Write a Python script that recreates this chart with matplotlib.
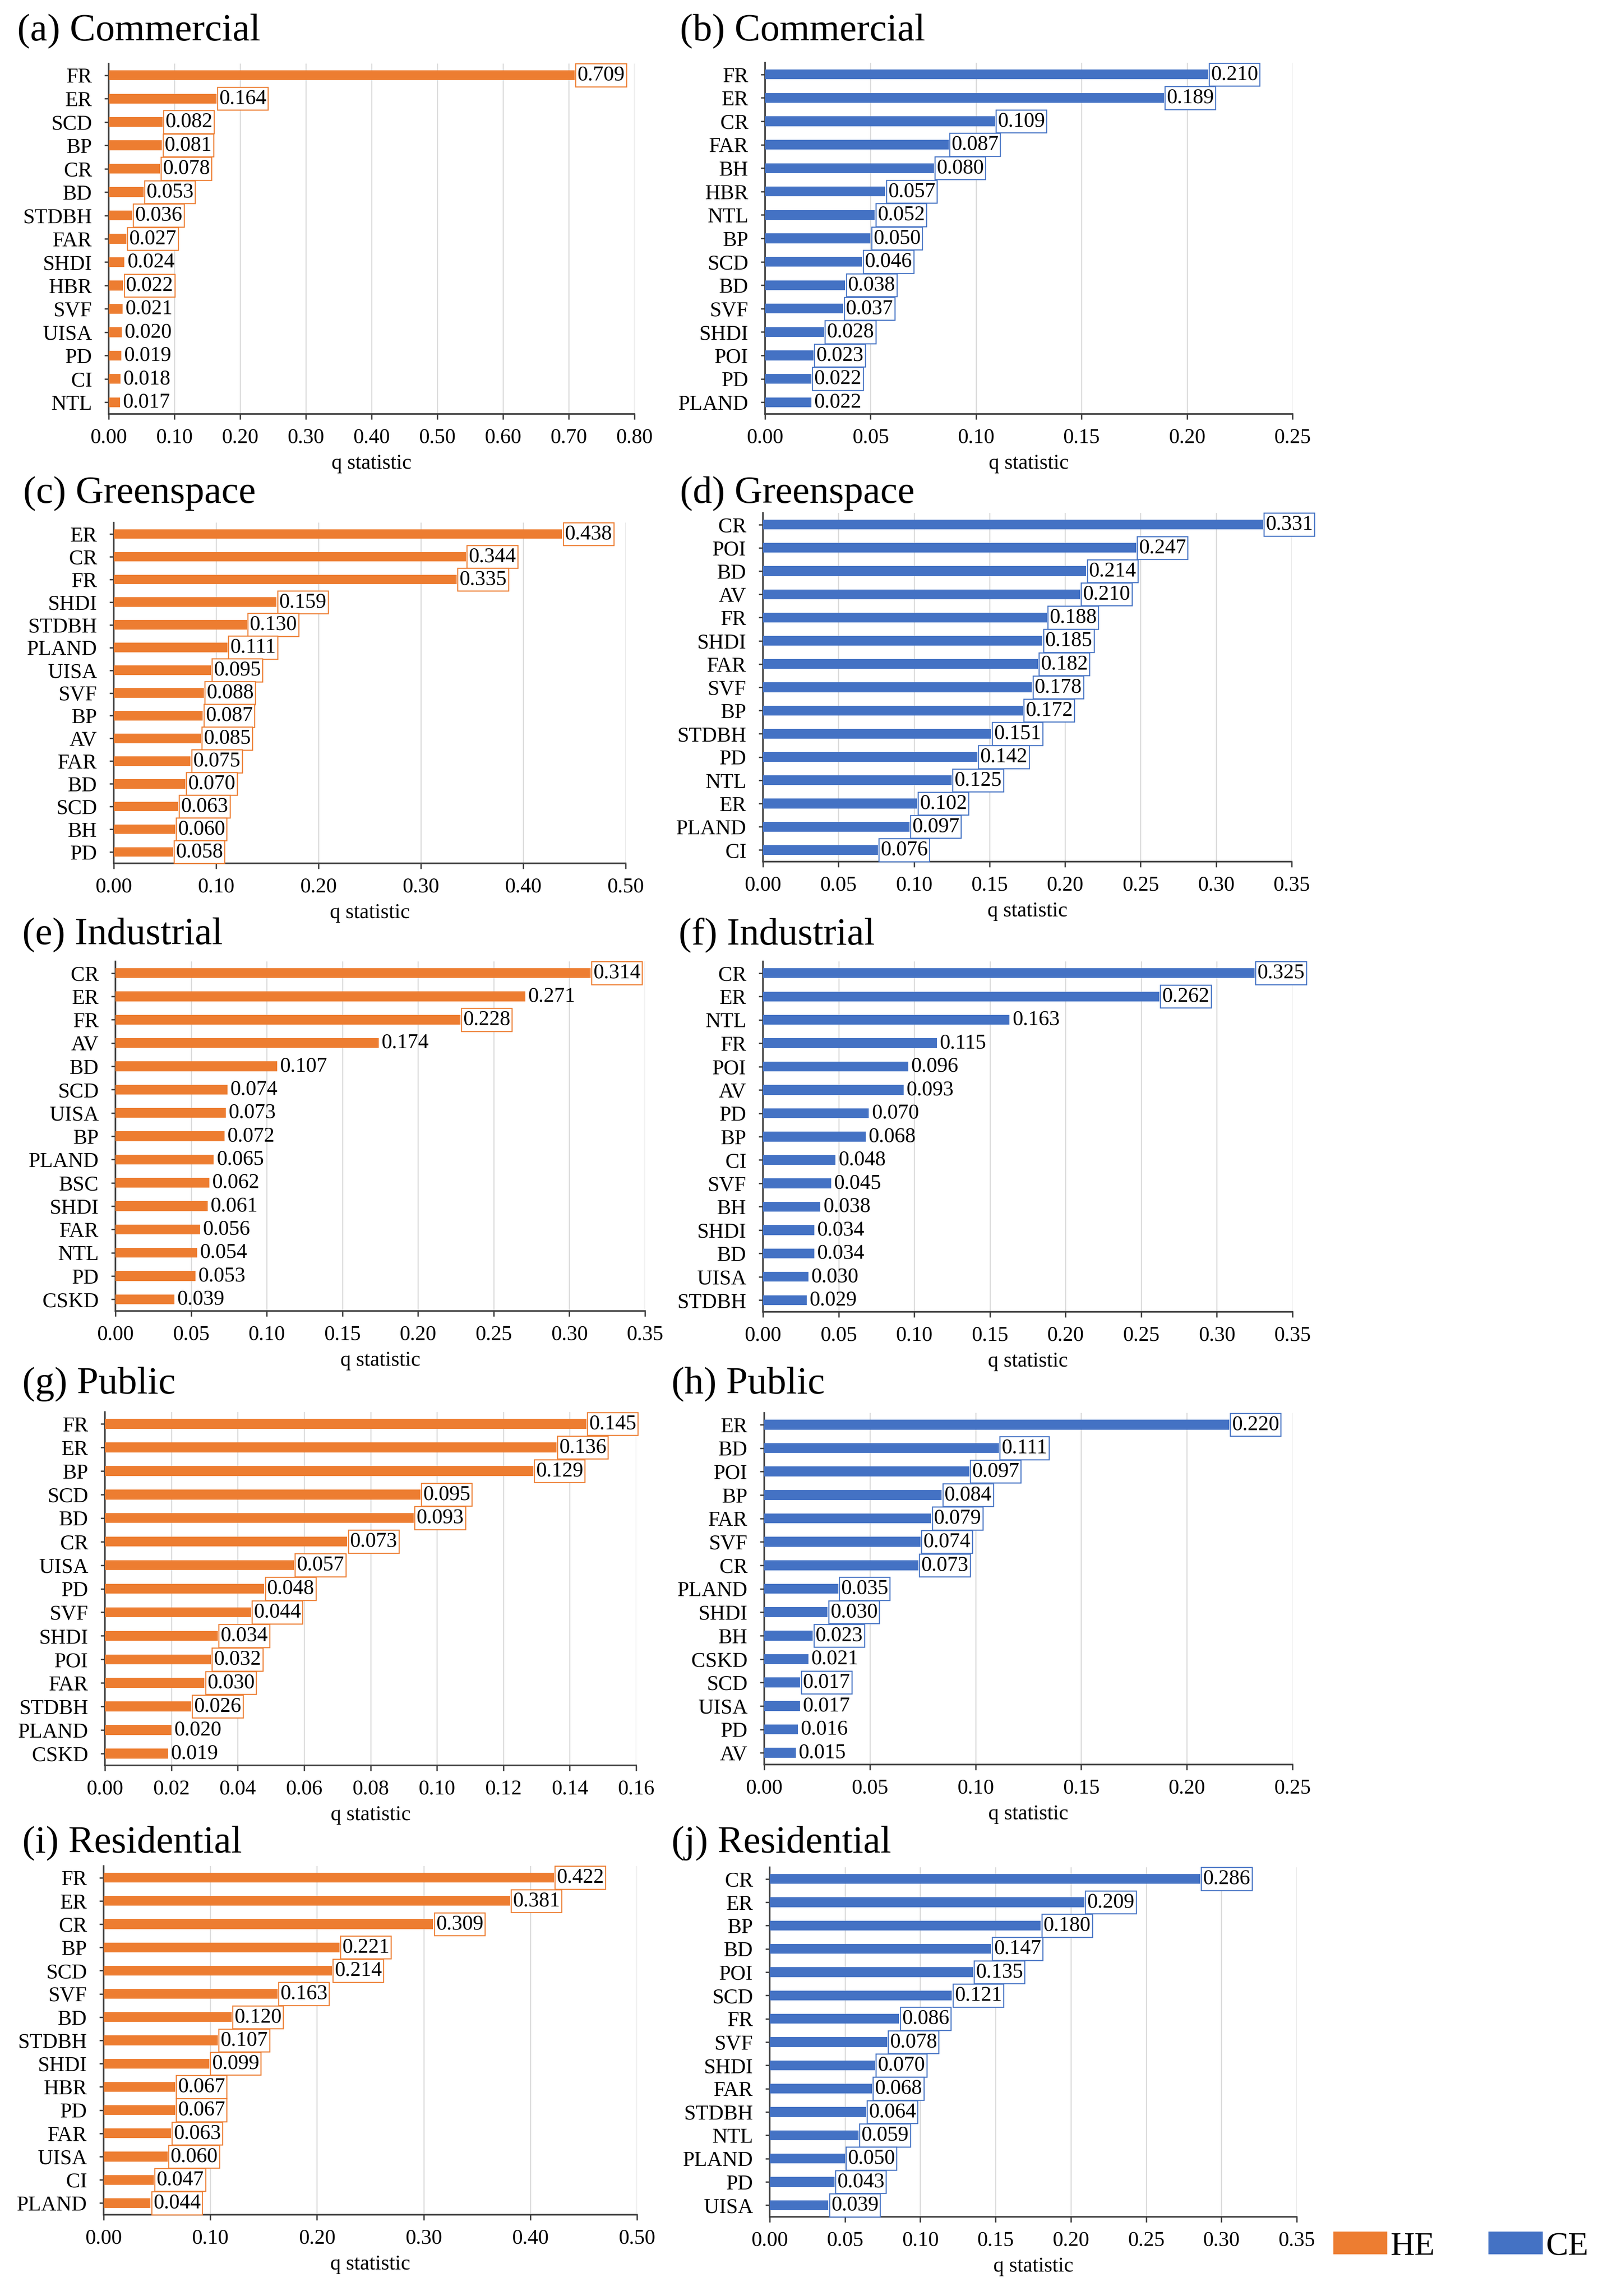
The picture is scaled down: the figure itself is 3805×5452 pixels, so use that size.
import numpy as np
import matplotlib
matplotlib.use('Agg')
import matplotlib.pyplot as plt
from matplotlib.patches import Patch
from matplotlib.ticker import FormatStrFormatter

plt.rcParams['font.family'] = ['Liberation Serif', 'DejaVu Serif']

HE_COLOR = '#ED7D31'
CE_COLOR = '#4472C4'

# (a) Commercial, HE
a_labels = ['FR', 'ER', 'SCD', 'BP', 'CR', 'BD', 'STDBH', 'FAR', 'SHDI', 'HBR', 'SVF', 'UISA', 'PD', 'CI', 'NTL']
a_values = [0.709, 0.164, 0.082, 0.081, 0.078, 0.053, 0.036, 0.027, 0.024, 0.022, 0.021, 0.020, 0.019, 0.018, 0.017]
a_boxed = [1, 1, 1, 1, 1, 1, 1, 1, 0, 1, 0, 0, 0, 0, 0]

# (b) Commercial, CE
b_labels = ['FR', 'ER', 'CR', 'FAR', 'BH', 'HBR', 'NTL', 'BP', 'SCD', 'BD', 'SVF', 'SHDI', 'POI', 'PD', 'PLAND']
b_values = [0.210, 0.189, 0.109, 0.087, 0.080, 0.057, 0.052, 0.050, 0.046, 0.038, 0.037, 0.028, 0.023, 0.022, 0.022]
b_boxed = [1, 1, 1, 1, 1, 1, 1, 1, 1, 1, 1, 1, 1, 1, 0]

# (c) Greenspace, HE
c_labels = ['ER', 'CR', 'FR', 'SHDI', 'STDBH', 'PLAND', 'UISA', 'SVF', 'BP', 'AV', 'FAR', 'BD', 'SCD', 'BH', 'PD']
c_values = [0.438, 0.344, 0.335, 0.159, 0.130, 0.111, 0.095, 0.088, 0.087, 0.085, 0.075, 0.070, 0.063, 0.060, 0.058]
c_boxed = [1] * 15

# (d) Greenspace, CE
d_labels = ['CR', 'POI', 'BD', 'AV', 'FR', 'SHDI', 'FAR', 'SVF', 'BP', 'STDBH', 'PD', 'NTL', 'ER', 'PLAND', 'CI']
d_values = [0.331, 0.247, 0.214, 0.210, 0.188, 0.185, 0.182, 0.178, 0.172, 0.151, 0.142, 0.125, 0.102, 0.097, 0.076]
d_boxed = [1] * 15

# (e) Industrial, HE
e_labels = ['CR', 'ER', 'FR', 'AV', 'BD', 'SCD', 'UISA', 'BP', 'PLAND', 'BSC', 'SHDI', 'FAR', 'NTL', 'PD', 'CSKD']
e_values = [0.314, 0.271, 0.228, 0.174, 0.107, 0.074, 0.073, 0.072, 0.065, 0.062, 0.061, 0.056, 0.054, 0.053, 0.039]
e_boxed = [1, 0, 1, 0, 0, 0, 0, 0, 0, 0, 0, 0, 0, 0, 0]

# (f) Industrial, CE
f_labels = ['CR', 'ER', 'NTL', 'FR', 'POI', 'AV', 'PD', 'BP', 'CI', 'SVF', 'BH', 'SHDI', 'BD', 'UISA', 'STDBH']
f_values = [0.325, 0.262, 0.163, 0.115, 0.096, 0.093, 0.070, 0.068, 0.048, 0.045, 0.038, 0.034, 0.034, 0.030, 0.029]
f_boxed = [1, 1, 0, 0, 0, 0, 0, 0, 0, 0, 0, 0, 0, 0, 0]

# (g) Public, HE
g_labels = ['FR', 'ER', 'BP', 'SCD', 'BD', 'CR', 'UISA', 'PD', 'SVF', 'SHDI', 'POI', 'FAR', 'STDBH', 'PLAND', 'CSKD']
g_values = [0.145, 0.136, 0.129, 0.095, 0.093, 0.073, 0.057, 0.048, 0.044, 0.034, 0.032, 0.030, 0.026, 0.020, 0.019]
g_boxed = [1, 1, 1, 1, 1, 1, 1, 1, 1, 1, 1, 1, 1, 0, 0]

# (h) Public, CE
h_labels = ['ER', 'BD', 'POI', 'BP', 'FAR', 'SVF', 'CR', 'PLAND', 'SHDI', 'BH', 'CSKD', 'SCD', 'UISA', 'PD', 'AV']
h_values = [0.220, 0.111, 0.097, 0.084, 0.079, 0.074, 0.073, 0.035, 0.030, 0.023, 0.021, 0.017, 0.017, 0.016, 0.015]
h_boxed = [1, 1, 1, 1, 1, 1, 1, 1, 1, 1, 0, 1, 0, 0, 0]

# (i) Residential, HE
i_labels = ['FR', 'ER', 'CR', 'BP', 'SCD', 'SVF', 'BD', 'STDBH', 'SHDI', 'HBR', 'PD', 'FAR', 'UISA', 'CI', 'PLAND']
i_values = [0.422, 0.381, 0.309, 0.221, 0.214, 0.163, 0.120, 0.107, 0.099, 0.067, 0.067, 0.063, 0.060, 0.047, 0.044]
i_boxed = [1] * 15

# (j) Residential, CE
j_labels = ['CR', 'ER', 'BP', 'BD', 'POI', 'SCD', 'FR', 'SVF', 'SHDI', 'FAR', 'STDBH', 'NTL', 'PLAND', 'PD', 'UISA']
j_values = [0.286, 0.209, 0.180, 0.147, 0.135, 0.121, 0.086, 0.078, 0.070, 0.068, 0.064, 0.059, 0.050, 0.043, 0.039]
j_boxed = [1] * 15

W, H = 3805, 5452

# (title, labels, values, boxed, color, xmax, step, axes px box (l, r, t, b), title xy px)
panels = [
    ('(a) Commercial', a_labels, a_values, a_boxed, HE_COLOR, 0.80, 0.10, (258, 1506, 151, 983), (41, 74)),
    ('(b) Commercial', b_labels, b_values, b_boxed, CE_COLOR, 0.25, 0.05, (1816, 3068, 149, 983), (1614, 74)),
    ('(c) Greenspace', c_labels, c_values, c_boxed, HE_COLOR, 0.50, 0.10, (270, 1485, 1241, 2050), (55, 1172)),
    ('(d) Greenspace', d_labels, d_values, d_boxed, CE_COLOR, 0.35, 0.05, (1811, 3066, 1218, 2046), (1614, 1172)),
    ('(e) Industrial', e_labels, e_values, e_boxed, HE_COLOR, 0.35, 0.05, (274, 1531, 2283, 3113), (53, 2220)),
    ('(f) Industrial', f_labels, f_values, f_boxed, CE_COLOR, 0.35, 0.05, (1811, 3068, 2283, 3115), (1611, 2220)),
    ('(g) Public', g_labels, g_values, g_boxed, HE_COLOR, 0.16, 0.02, (249, 1510, 3353, 4192), (53, 3287)),
    ('(h) Public', h_labels, h_values, h_boxed, CE_COLOR, 0.25, 0.05, (1814, 3068, 3355, 4190), (1594, 3287)),
    ('(i) Residential', i_labels, i_values, i_boxed, HE_COLOR, 0.50, 0.10, (246, 1512, 4431, 5259), (53, 4377)),
    ('(j) Residential', j_labels, j_values, j_boxed, CE_COLOR, 0.35, 0.05, (1827, 3078, 4434, 5264), (1594, 4377)),
]

fig = plt.figure(figsize=(W / 300, H / 300), dpi=300)

for title, labels, values, boxed, color, xmax, step, (l, r, t, b), (tx, ty) in panels:
    ax = fig.add_axes([l / W, 1 - b / H, (r - l) / W, (b - t) / H])
    y = np.arange(len(labels))
    ax.barh(y, values, height=0.42, color=color, zorder=3)
    ax.set_ylim(len(labels) - 0.5, -0.5)
    ax.set_yticks(y)
    ax.set_yticklabels(labels, fontsize=12)
    ax.set_xlim(0, xmax)
    ax.set_xticks(np.arange(0, xmax + step / 2, step))
    ax.xaxis.set_major_formatter(FormatStrFormatter('%.2f'))
    ax.tick_params(axis='x', labelsize=12, length=3, width=0.8, pad=5, color='#404040')
    ax.tick_params(axis='y', length=2.5, width=0.8, pad=7, color='#404040')
    ax.grid(axis='x', color='#d9d9d9', linewidth=0.6, zorder=0)
    ax.set_axisbelow(True)
    for side in ['top', 'right']:
        ax.spines[side].set_visible(False)
    for side in ['left', 'bottom']:
        ax.spines[side].set_color('#404040')
        ax.spines[side].set_linewidth(0.9)
    ax.set_xlabel('q statistic', fontsize=12, labelpad=3.5)

    for k, v in enumerate(values):
        bbox = None
        if boxed[k]:
            bbox = dict(boxstyle='square,pad=0.08', fc='white', ec=color, lw=0.6)
        ax.annotate(f'{v:.3f}', xy=(v, k), xytext=(1.5, 0), textcoords='offset points',
                    ha='left', va='center', fontsize=12, bbox=bbox, zorder=4,
                    annotation_clip=False)

    fig.text(tx / W, 1 - ty / H, title, fontsize=22, ha='left', va='center')

handles = [Patch(facecolor=HE_COLOR, edgecolor='none'), Patch(facecolor=CE_COLOR, edgecolor='none')]
fig.legend(handles, ['HE', 'CE'], loc='center left',
           bbox_to_anchor=(3165 / W, 1 - 5335 / H), ncol=2, frameon=False,
           fontsize=19, handlelength=1.62, handleheight=0.66, handletextpad=0.1,
           columnspacing=1.6, borderpad=0, borderaxespad=0)

fig.savefig('out.png', dpi=300, facecolor='white')
